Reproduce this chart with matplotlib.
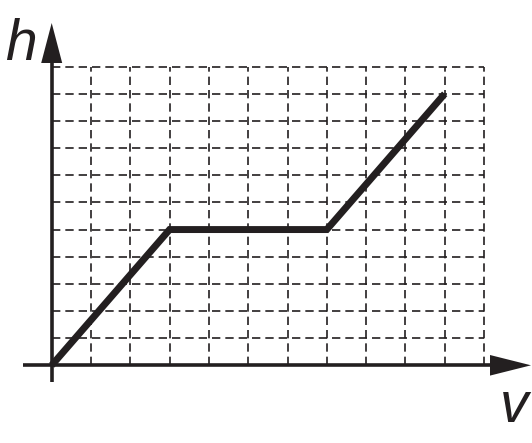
import numpy as np
import matplotlib.pyplot as plt

# graph of h against v, in grid units
v_vals = [0, 3, 7, 10]
h_vals = [0, 5, 5, 10]
n_cols = 11
n_rows = 11

ink = "#231f20"

# pixel geometry of the reference
W, H = 532, 443
x0_px, y0_px = 51.7, 365.3
cell_w, cell_h = 39.3, 27.15

fig = plt.figure(figsize=(W / 100, H / 100), dpi=100)
ax = fig.add_axes([0, 0, 1, 1])
ax.set_xlim(-x0_px / cell_w, (W - x0_px) / cell_w)
ax.set_ylim((y0_px - H) / cell_h, y0_px / cell_h)
ax.axis("off")


def px2u(px):
    return (px - x0_px) / cell_w


def py2v(py):
    return (y0_px - py) / cell_h


# dashed grid
dash = (0, (5, 3))
ax.vlines(np.arange(1, n_cols + 1), 0, n_rows, colors=ink, lw=1.2, linestyles=dash)
ax.hlines(np.arange(1, n_rows + 1), 0, n_cols, colors=ink, lw=1.2, linestyles=dash)

# axes with arrow heads
ax.plot([px2u(23), px2u(492)], [0, 0], color=ink, lw=2.6, solid_capstyle="butt")
ax.plot([0, 0], [py2v(382), py2v(60)], color=ink, lw=2.6, solid_capstyle="butt")
hw = 10.3 / cell_h
ax.fill([px2u(490), px2u(531), px2u(490)], [hw, 0, -hw], color=ink, lw=0)
hw = 10.5 / cell_w
ax.fill([-hw, 0, hw], [py2v(63), py2v(23), py2v(63)], color=ink, lw=0)

# data line
ax.plot(v_vals, h_vals, color=ink, lw=5, solid_joinstyle="miter",
        solid_capstyle="butt")

font = dict(family="Liberation Sans", style="italic", fontsize=41, color=ink)
ax.text(px2u(5), py2v(60), "h", ha="left", va="baseline", **font)
ax.text(px2u(500), py2v(422), "v", ha="left", va="baseline", **font)

fig.savefig("out.png", dpi=100)
